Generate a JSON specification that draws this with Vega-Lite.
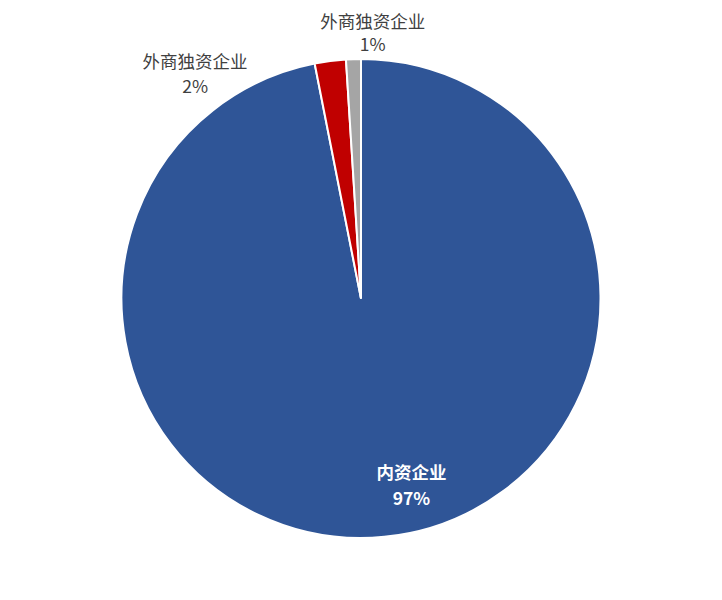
{
  "$schema": "https://vega.github.io/schema/vega-lite/v6.json",
  "width": 722,
  "height": 600,
  "autosize": {"type": "fit", "contains": "padding"},
  "padding": {"top": 0, "bottom": 3, "left": 0, "right": 0},
  "background": "white",
  "view": {"stroke": null},
  "data": {
    "values": [
      {"id": 1, "name": "内资企业", "share": 96.9, "label": "内资企业\n97%"},
      {"id": 2, "name": "外商独资企业", "share": 2.1, "label": "外商独资企业\n2%"},
      {"id": 3, "name": "外商独资企业", "share": 1.0, "label": "外商独资企业\n1%"}
    ]
  },
  "encoding": {
    "theta": {"field": "share", "type": "quantitative", "stack": true},
    "order": {"field": "id", "type": "quantitative"}
  },
  "layer": [
    {
      "mark": {"type": "arc", "outerRadius": 239.5, "stroke": "white", "strokeWidth": 2},
      "encoding": {
        "color": {
          "field": "id",
          "type": "nominal",
          "scale": {"domain": [1, 2, 3], "range": ["#2F5597", "#C00000", "#A5A5A5"]},
          "legend": null
        }
      }
    },
    {
      "mark": {"type": "text", "radius": 189, "dx": 32, "dy": -13, "align": "center", "baseline": "middle", "lineBreak": "\n", "lineHeight": 26, "font": "Noto Sans CJK SC", "fontSize": 17.5, "fontWeight": "bold", "color": "white"},
      "encoding": {
        "text": {"condition": {"test": "datum.id == 1", "field": "label"}, "value": ""}
      }
    },
    {
      "mark": {"type": "text", "radius": 225, "dx": -137, "dy": -12.5, "align": "center", "baseline": "middle", "lineBreak": "\n", "lineHeight": 25, "font": "Noto Sans CJK SC", "fontSize": 17.5, "color": "#404040"},
      "encoding": {
        "text": {"condition": {"test": "datum.id == 2", "field": "label"}, "value": ""}
      }
    },
    {
      "mark": {"type": "text", "radius": 264, "dx": 20, "dy": -11.5, "align": "center", "baseline": "middle", "lineBreak": "\n", "lineHeight": 23, "font": "Noto Sans CJK SC", "fontSize": 17.5, "color": "#404040"},
      "encoding": {
        "text": {"condition": {"test": "datum.id == 3", "field": "label"}, "value": ""}
      }
    }
  ]
}
